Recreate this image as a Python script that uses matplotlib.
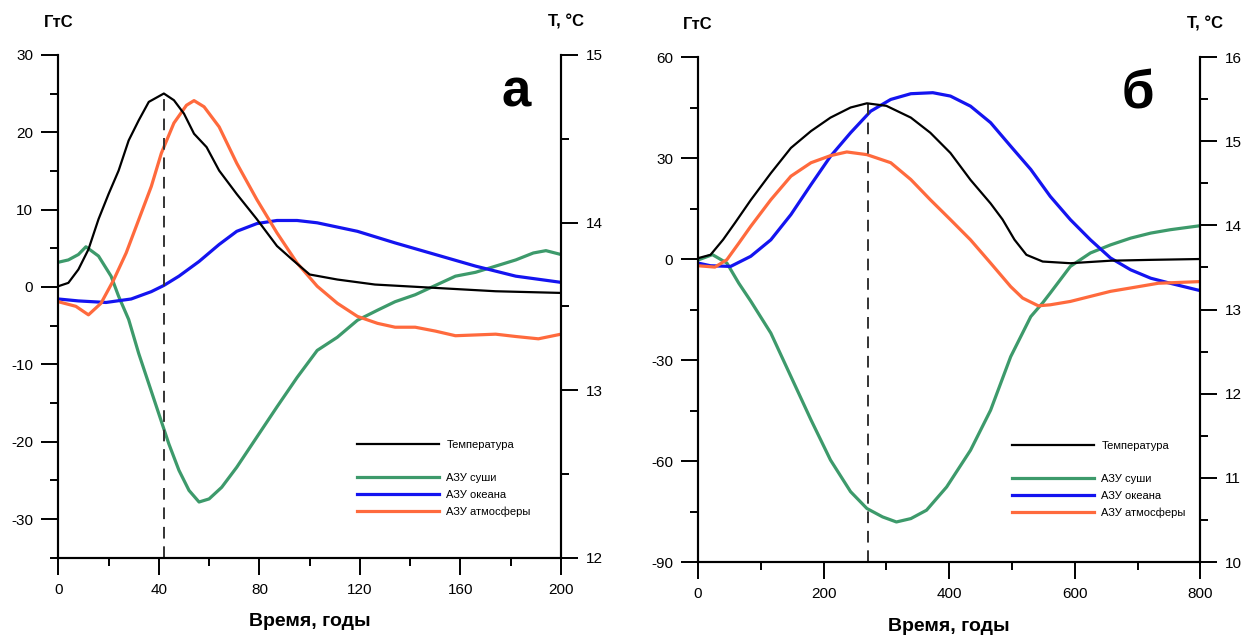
import numpy as np
import matplotlib.pyplot as plt
from matplotlib.lines import Line2D
from matplotlib.ticker import MultipleLocator

plt.rcParams["font.family"] = ["Liberation Sans", "DejaVu Sans"]
plt.rcParams["axes.unicode_minus"] = False

# ---- panel a (0..200 years) ----
t_temp_a = [0, 4, 8, 12, 16, 20, 24, 28, 32, 36, 42, 46, 50, 54, 59, 64, 71, 79, 87, 93, 100, 111, 126, 150, 174, 200]
temp_a = [13.62, 13.64, 13.72, 13.84, 14.02, 14.17, 14.31, 14.49, 14.61, 14.72, 14.77, 14.73, 14.65, 14.53, 14.45,
          14.31, 14.17, 14.02, 13.86, 13.78, 13.69, 13.66, 13.63, 13.61, 13.59, 13.58]

t_land_a = [0, 4, 8, 11, 16, 21, 24, 28, 32, 36, 40, 44, 48, 52, 56, 60, 65, 71, 79, 87, 95, 103, 111, 119, 127,
            134, 142, 150, 158, 166, 174, 182, 189, 194, 200]
land_a = [3.2, 3.5, 4.2, 5.2, 4.0, 1.4, -1.2, -4.2, -8.6, -12.5, -16.4, -20.3, -23.7, -26.3, -27.8, -27.4, -25.9,
          -23.3, -19.4, -15.5, -11.7, -8.2, -6.5, -4.3, -3.0, -1.9, -1.0, 0.2, 1.4, 1.9, 2.7, 3.5, 4.4, 4.7, 4.2]

t_ocean_a = [0, 8, 19, 29, 37, 42, 48, 56, 64, 71, 79, 87, 95, 103, 119, 134, 150, 166, 182, 200]
ocean_a = [-1.55, -1.8, -2.0, -1.55, -0.6, 0.2, 1.4, 3.3, 5.5, 7.2, 8.2, 8.6, 8.6, 8.3, 7.2, 5.7, 4.2, 2.7, 1.4, 0.6]

t_atm_a = [0, 7, 12, 17, 22, 27, 32, 37, 41, 46, 51, 54, 58, 64, 71, 79, 87, 95, 103, 111, 119, 127, 134, 142,
           150, 158, 174, 182, 191, 200]
atm_a = [-1.9, -2.5, -3.6, -2.1, 0.9, 4.4, 8.7, 13.0, 17.3, 21.2, 23.5, 24.1, 23.3, 20.7, 16.0, 11.3, 7.0, 3.1,
         0.1, -2.1, -3.8, -4.7, -5.2, -5.2, -5.7, -6.3, -6.1, -6.4, -6.7, -6.1]

peak_a = 42
peak_a_top = 25.0

# ---- panel b (0..800 years) ----
t_temp_b = [0, 20, 40, 59, 84, 116, 148, 180, 211, 243, 269, 300, 339, 370, 402, 434, 466, 485, 504, 523, 549,
            593, 657, 721, 800]
temp_b = [13.61, 13.65, 13.83, 14.03, 14.30, 14.62, 14.92, 15.12, 15.28, 15.40, 15.45, 15.42, 15.28, 15.10, 14.86,
          14.54, 14.26, 14.07, 13.83, 13.65, 13.57, 13.55, 13.58, 13.59, 13.60]

t_land_b = [0, 23, 46, 65, 84, 116, 148, 180, 211, 243, 269, 294, 316, 339, 364, 396, 434, 466, 498, 530, 549,
            561, 593, 625, 657, 689, 721, 752, 800]
land_b = [-0.3, 1.3, -1.2, -7.2, -12.5, -22.0, -34.9, -47.8, -59.7, -69.1, -74.1, -76.6, -78.1, -77.1, -74.6,
          -67.7, -56.8, -44.9, -29.0, -17.1, -13.0, -10.1, -2.2, 1.8, 4.2, 6.2, 7.7, 8.7, 9.9]

t_ocean_b = [0, 20, 52, 84, 116, 148, 180, 211, 243, 275, 307, 339, 374, 402, 434, 466, 498, 530, 561, 593, 625,
             657, 689, 721, 752, 800]
ocean_b = [-1.2, -2.0, -2.2, 0.8, 5.7, 13.2, 22.1, 30.5, 37.5, 43.9, 47.4, 49.1, 49.4, 48.4, 45.4, 40.5, 33.5,
           26.6, 18.6, 11.7, 5.7, 0.3, -3.2, -5.7, -7.2, -9.4]

t_atm_b = [0, 27, 46, 65, 84, 116, 148, 180, 211, 237, 269, 307, 339, 370, 402, 434, 466, 498, 517, 542, 561, 593,
           625, 657, 689, 733, 800]
atm_b = [-2.0, -2.4, -0.2, 4.7, 9.7, 17.6, 24.6, 28.6, 30.7, 31.8, 31.0, 28.6, 23.6, 17.6, 11.7, 5.7, -1.2, -8.2,
         -11.6, -13.9, -13.6, -12.6, -11.1, -9.6, -8.6, -7.2, -6.7]

peak_b = 270
peak_b_top = 46.0

C_LAND = "#3d9a6b"
C_OCEAN = "#1414f0"
C_ATM = "#ff6a3d"

labels = ["Температура", " ", "АЗУ суши", "АЗУ океана", "АЗУ атмосферы"]


def draw_panel(rect, t_temp, temp, t_land, land, t_ocean, ocean, t_atm, atm, peak, peak_top,
               xlim, xmaj, ylim, ymaj, tlim, letter, letter_x, leg_anchor):
    ax = fig.add_axes(rect)
    ax2 = ax.twinx()

    l_land, = ax.plot(t_land, land, color=C_LAND, lw=2.3)
    l_ocean, = ax.plot(t_ocean, ocean, color=C_OCEAN, lw=2.3)
    l_atm, = ax.plot(t_atm, atm, color=C_ATM, lw=2.3)
    ax.vlines(peak, ylim[0], peak_top, colors="#333333", linestyles=(0, (6, 4)), lw=1.4)
    l_temp, = ax2.plot(t_temp, temp, color="black", lw=1.6)

    ax.set_xlim(*xlim)
    ax.set_ylim(*ylim)
    ax2.set_ylim(*tlim)
    ax.xaxis.set_major_locator(MultipleLocator(xmaj))
    ax.xaxis.set_minor_locator(MultipleLocator(xmaj / 2))
    ax.yaxis.set_major_locator(MultipleLocator(ymaj))
    ax.yaxis.set_minor_locator(MultipleLocator(ymaj / 2))
    ax2.yaxis.set_major_locator(MultipleLocator(1))
    ax2.yaxis.set_minor_locator(MultipleLocator(0.5))

    for a in (ax, ax2):
        a.spines["top"].set_visible(False)
        for s in a.spines.values():
            s.set_linewidth(1.5)
        a.tick_params(which="major", direction="out", length=12, width=1.4, labelsize=11, pad=6)
        a.tick_params(which="minor", direction="out", length=6, width=1.4)

    ax.text(0, 1.05, "ГтС", transform=ax.transAxes, ha="center", va="bottom",
            fontsize=12, fontweight="bold")
    ax2.text(1.01, 1.05, "T, °C", transform=ax.transAxes, ha="center", va="bottom",
             fontsize=12, fontweight="bold")
    ax.text(letter_x, 0.925, letter, transform=ax.transAxes, ha="center", va="center",
            fontsize=38, fontweight="bold")
    ax.set_xlabel("Время, годы", fontsize=14, fontweight="bold", labelpad=12)

    spacer = Line2D([], [], color="none")
    ax2.legend([l_temp, spacer, l_land, l_ocean, l_atm], labels, loc="upper left",
               bbox_to_anchor=leg_anchor, frameon=False, fontsize=8, handlelength=7.3,
               handletextpad=0.7, labelspacing=0.6, borderpad=0, borderaxespad=0)
    return ax


fig = plt.figure(figsize=(12.59, 6.37), dpi=100)

draw_panel([0.0463, 0.1245, 0.3993, 0.7892], t_temp_a, temp_a, t_land_a, land_a, t_ocean_a, ocean_a,
           t_atm_a, atm_a, peak_a, peak_a_top, (0, 200), 40, (-35, 30), 10, (12, 15), "а", 0.91, (0.595, 0.235))
draw_panel([0.5544, 0.1177, 0.3990, 0.7928], t_temp_b, temp_b, t_land_b, land_b, t_ocean_b, ocean_b,
           t_atm_b, atm_b, peak_b, peak_b_top, (0, 800), 200, (-90, 60), 30, (10, 16), "б", 0.875, (0.626, 0.24))

fig.savefig("out.png", dpi=100)
